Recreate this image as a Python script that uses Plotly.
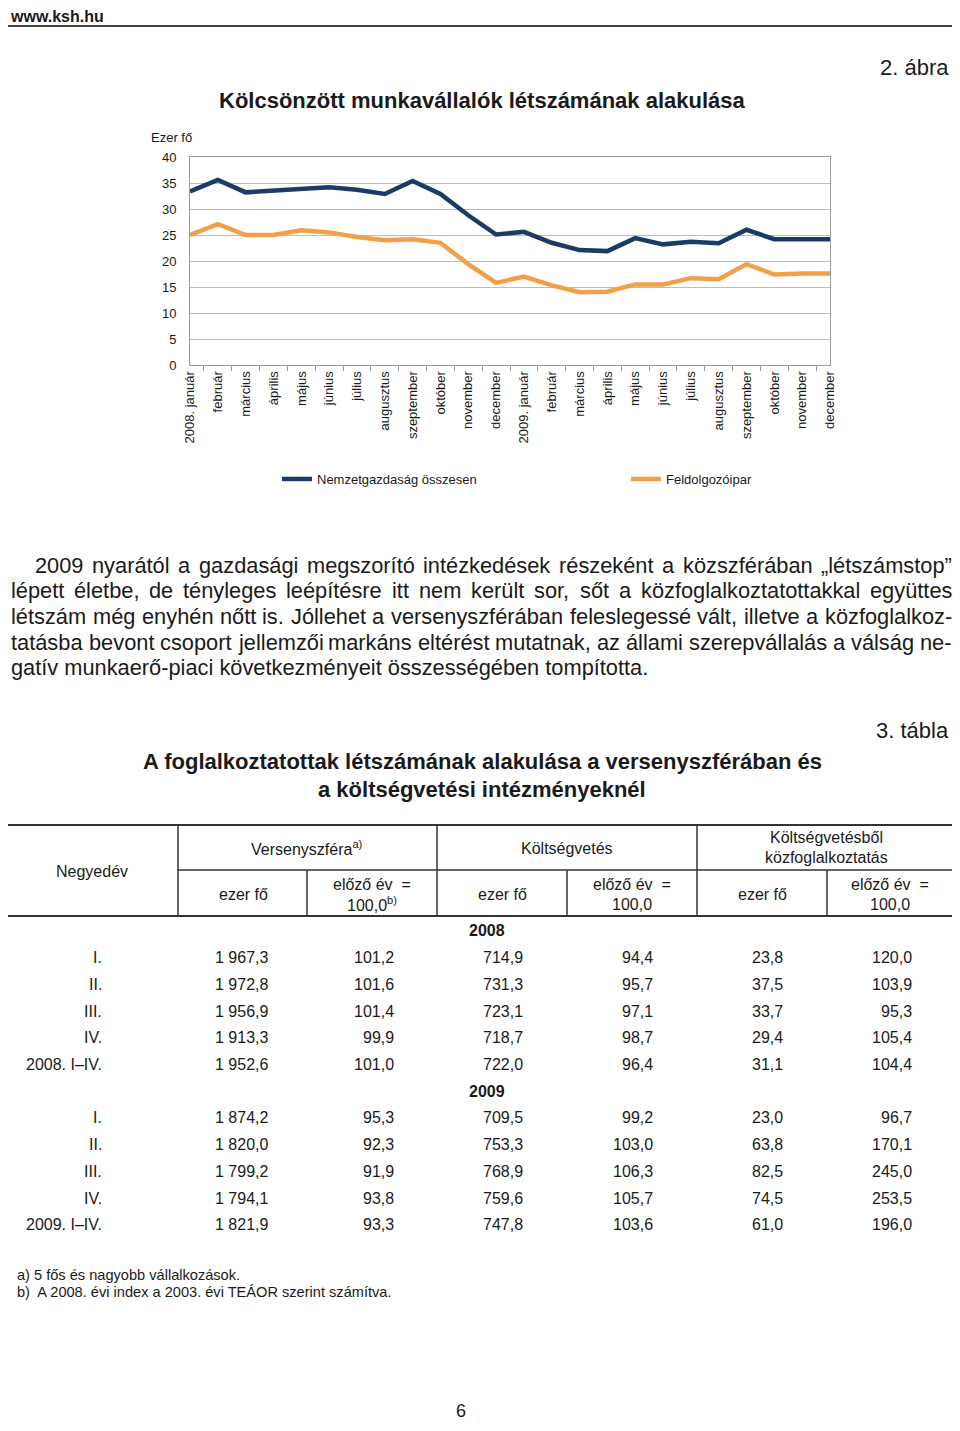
import plotly.graph_objects as go

# the page body has an 8px margin, so the figure is 16px smaller than the window
OFF = 8
W, H = 960 - 2 * OFF, 1431 - 2 * OFF
NARROW = "Liberation Sans Narrow, Arial Narrow, Liberation Sans, Arial, sans-serif"
WIDE = "Liberation Sans, Arial, sans-serif"

# --- chart data (ezer fő) ---
months = ["január", "február", "március", "április", "május", "június", "július",
          "augusztus", "szeptember", "október", "november", "december"]
# the 2009 months get a zero-width space so the category axis keeps them apart
month_labels = (["2008. január"] + months[1:] +
                ["2009. január"] + [m + "\u200b" for m in months[1:]])
nemzetgazdasag = [33.4, 35.6, 33.2, 33.5, 34.0, 34.2, 33.7, 32.9, 35.4, 32.9, 28.8, 25.1,
                  25.6, 23.5, 22.1, 21.9, 24.4, 23.2, 23.7, 23.4, 26.0, 24.2, 24.2, 24.2]
feldolgozoipar = [25.0, 27.1, 25.0, 25.0, 25.9, 25.5, 24.6, 24.0, 24.2, 23.5, 19.4, 15.8,
                  17.0, 15.3, 14.0, 14.1, 15.5, 15.5, 16.7, 16.5, 19.4, 17.4, 17.6, 17.6]

# --- table data ---
quarters = ["I.", "II.", "III.", "IV."]
years = ["2008", "2009"]
verseny_fo = [["1 967,3", "1 972,8", "1 956,9", "1 913,3", "1 952,6"],
              ["1 874,2", "1 820,0", "1 799,2", "1 794,1", "1 821,9"]]
verseny_idx = [["101,2", "101,6", "101,4", "99,9", "101,0"],
               ["95,3", "92,3", "91,9", "93,8", "93,3"]]
koltseg_fo = [["714,9", "731,3", "723,1", "718,7", "722,0"],
              ["709,5", "753,3", "768,9", "759,6", "747,8"]]
koltseg_idx = [["94,4", "95,7", "97,1", "98,7", "96,4"],
               ["99,2", "103,0", "106,3", "105,7", "103,6"]]
kozfogl_fo = [["23,8", "37,5", "33,7", "29,4", "31,1"],
              ["23,0", "63,8", "82,5", "74,5", "61,0"]]
kozfogl_idx = [["120,0", "103,9", "95,3", "105,4", "104,4"],
               ["96,7", "170,1", "245,0", "253,5", "196,0"]]

paragraph = [
    "2009 nyarától a gazdasági megszorító intézkedések részeként a közszférában „létszámstop”",
    "lépett életbe, de tényleges leépítésre itt nem került sor, sőt a közfoglalkoztatottakkal együttes",
    "létszám még enyhén nőtt is. Jóllehet a versenyszférában feleslegessé vált, illetve a közfoglalkoz-",
    "tatásba bevont csoport  jellemzői markáns eltérést mutatnak, az állami szerepvállalás a válság ne-",
    "gatív munkaerő-piaci következményeit összességében tompította.",
]


def px(x):
    return (x - OFF) / W


def py(y):
    return 1 - (y - OFF) / H


# rough Arial advance widths (per 1000 em) for justifying the paragraph
_w = {" ": 278, "f": 278, "i": 222, "í": 278, "j": 222, "l": 222, "t": 278, "r": 333,
      "c": 500, "k": 500, "s": 500, "v": 500, "x": 500, "y": 500, "z": 500,
      "m": 833, "w": 722, ",": 278, ".": 278, "-": 333, "„": 333, "”": 333, "J": 500}


def text_width(s, size):
    return sum(_w.get(ch, 556) for ch in s) * size / 1000


fig = go.Figure()
fig.add_trace(go.Scatter(x=month_labels, y=nemzetgazdasag, mode="lines",
                         name="Nemzetgazdaság összesen", legend="legend",
                         line=dict(color="#1B3A64", width=4.5)))
fig.add_trace(go.Scatter(x=month_labels, y=feldolgozoipar, mode="lines",
                         name="Feldolgozóipar", legend="legend2",
                         line=dict(color="#F2A048", width=4.5)))

ann = []
shapes = []


def text(x, y, s, size, anchor="center", bold=False, family=NARROW, color="#1a1a1a",
         vanchor="middle"):
    ann.append(dict(xref="paper", yref="paper", x=px(x), y=py(y), text=s,
                    showarrow=False, xanchor=anchor, yanchor=vanchor,
                    font=dict(size=size, family=family, color=color,
                              weight="bold" if bold else "normal")))


def hline(x0, x1, y, w=1.5, color="#333"):
    shapes.append(dict(type="line", xref="paper", yref="paper", x0=px(x0), x1=px(x1),
                       y0=py(y), y1=py(y), line=dict(color=color, width=w)))


def vline(x, y0, y1, w=1.5, color="#333"):
    shapes.append(dict(type="line", xref="paper", yref="paper", x0=px(x), x1=px(x),
                       y0=py(y0), y1=py(y1), line=dict(color=color, width=w)))


# page header
text(8, 6, "www.ksh.hu", 16, "left", bold=True, vanchor="top")
hline(OFF, 960 - OFF, 26, 2, "#444")
text(951, 68, "2. ábra", 22, "right")
text(482, 100, "Kölcsönzött munkavállalók létszámának alakulása", 22, bold=True)
text(149, 138, "Ezer fő", 13, "left")

# paragraph, justified word by word except the last line
PSIZE = 21.8
for i, line in enumerate(paragraph):
    x0 = 33 if i == 0 else 9
    y = 565 + i * 25.7
    if i == len(paragraph) - 1:
        text(x0, y, line, PSIZE, "left", family=WIDE)
        continue
    words = line.split()
    total = sum(text_width(wd, PSIZE) for wd in words)
    gap = (950 - x0 - total) / (len(words) - 1)
    xx = x0
    for wd in words:
        text(xx, y, wd, PSIZE, "left", family=WIDE)
        xx += text_width(wd, PSIZE) + gap

# table titles
text(951, 730, "3. tábla", 22, "right")
text(482, 762, "A foglalkoztatottak létszámának alakulása a versenyszférában és", 22, bold=True)
text(482, 789, "a költségvetési intézményeknél", 22, bold=True)

# table rules
hline(OFF, 952, 825, 2)
hline(178, 952, 870, 1.5)
hline(OFF, 952, 916, 2)
for x in (178, 437, 697):
    vline(x, 825, 916)
for x in (307, 567, 827):
    vline(x, 870, 916)

# table header
TS = 16
text(92, 871, "Negyedév", TS)
text(307, 848, "Versenyszféra<sup>a)</sup>", TS)
text(567, 848, "Költségvetés", TS)
text(826, 838, "Költségvetésből", TS)
text(826, 857, "közfoglalkoztatás", TS)
for cx in (243, 502, 762):
    text(cx, 894, "ezer fő", TS)
text(372, 884, "előző év  =", TS)
text(372, 904, "100,0<sup>b)</sup>", TS)
for cx in (632, 890):
    text(cx, 884, "előző év  =", TS)
    text(cx, 904, "100,0", TS)

# table body
cols = [verseny_fo, verseny_idx, koltseg_fo, koltseg_idx, kozfogl_fo, kozfogl_idx]
col_right = [270, 396, 525, 655, 785, 914]
row_step = 26.7
for b, yr in enumerate(years):
    y0 = 931 + b * 160.2
    text(487, y0, yr, TS, bold=True)
    labels = quarters + [f"{yr}. I–IV."]
    for r, lab in enumerate(labels):
        yy = y0 + (r + 1) * row_step
        text(104, yy, lab, TS, "right")
        for c, xr in zip(cols, col_right):
            text(xr, yy, c[b][r], TS, "right")

# footnotes and page number
text(15, 1275, "a) 5 fős és nagyobb vállalkozások.", 14.6, "left")
text(15, 1292, "b)  A 2008. évi index a 2003. évi TEÁOR szerint számítva.", 14.6, "left")
text(461, 1411, "6", 18)

leg = dict(orientation="h", yanchor="middle", xanchor="left", y=py(479),
           font=dict(size=13, family=NARROW), bgcolor="rgba(0,0,0,0)",
           itemwidth=30)
fig.update_layout(
    width=W, height=H,
    margin=dict(l=0, r=0, t=0, b=0, autoexpand=False),
    paper_bgcolor="white", plot_bgcolor="white",
    annotations=ann, shapes=shapes,
    font=dict(family=NARROW, size=13, color="#1a1a1a"),
    showlegend=True,
    legend=dict(leg, x=px(277)),
    legend2=dict(leg, x=px(626)),
)
fig.update_xaxes(domain=[px(190), px(830)], type="category", tickangle=-90,
                 tickson="boundaries", ticks="outside", ticklen=5, tickcolor="#999",
                 showline=True, linecolor="#999", mirror=True, showgrid=False,
                 automargin=False, tickfont=dict(size=13, family=NARROW))
fig.update_yaxes(domain=[py(365), py(157)], range=[0, 40], dtick=5,
                 showgrid=True, gridcolor="#BDBDBD", gridwidth=1.2,
                 showline=True, linecolor="#999", mirror=True, zeroline=False,
                 ticks="", ticklabelstandoff=10, automargin=False,
                 tickfont=dict(size=13, family=NARROW))

fig.write_html("out.html")
